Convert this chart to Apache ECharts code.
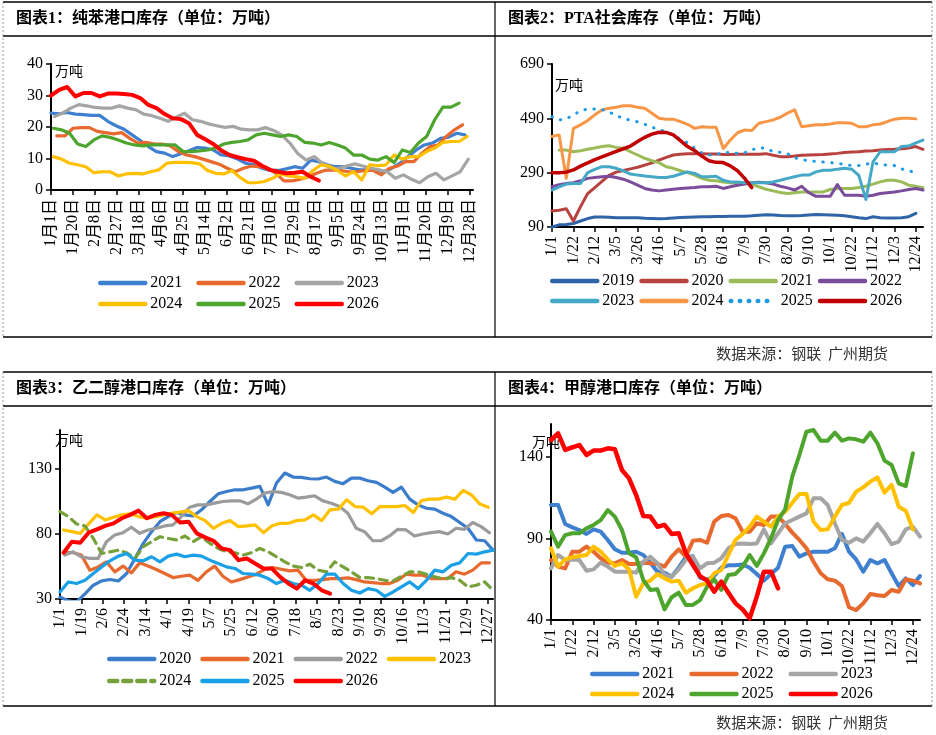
<!DOCTYPE html>
<html>
<head>
<meta charset="utf-8">
<script src="https://cdn.jsdelivr.net/npm/echarts@6/dist/echarts.min.js"></script>
<style>
html,body{margin:0;padding:0;background:#fff;}
#main{width:936px;height:735px;}
</style>
</head>
<body>
<div id="main"></div>
<script>
// ---------- 图表1 纯苯港口库存（周度，按一年中的第几天起算） ----------
var bzYears = ['2021','2022','2023','2024','2025','2026'];
var bzStart = [0, 5, 3, 2, 2, 0];
var bz2021 = [24.4,24.2,24.6,24.1,23.9,23.7,23.7,21.8,20.4,19.3,17.5,15.7,13.8,12.2,11.7,10.6,11.5,12.5,13.5,13.3,12.7,11.1,10.8,9.8,8.5,8.0,6.9,6.2,6.2,6.7,7.4,6.9,9.5,9.0,8.0,7.4,7.4,6.9,6.4,6.4,6.4,5.8,6.9,8.5,10.6,12.7,14.3,14.9,16.4,16.8,18.0,17.5];
var bz2022 = [17.2,17.2,19.6,19.8,19.8,18.6,18.2,17.8,18.2,16.4,14.9,15.1,14.6,14.6,14.0,12.2,11.1,10.6,9.8,9.0,8.2,6.9,5.8,6.9,7.6,7.4,6.9,5.3,2.9,2.9,3.4,4.2,5.3,6.2,6.4,6.2,5.8,5.8,6.2,6.2,4.8,6.9,7.6,9.0,9.0,11.7,13.8,14.3,17.0,19.1,20.7];
var bz2023 = [23.3,24.4,26.0,27.1,26.7,26.2,26.0,26.0,26.7,26.0,25.5,24.1,23.6,22.8,21.8,23.1,24.4,22.3,21.8,21.0,20.4,19.9,20.2,19.3,19.1,19.1,19.8,18.9,17.5,14.9,11.5,9.5,10.6,8.5,6.9,6.9,7.6,8.3,7.6,6.9,6.4,5.8,3.7,4.8,3.4,2.3,4.2,5.3,3.2,4.5,5.8,9.8];
var bz2024 = [10.6,9.8,8.5,8.0,7.4,5.5,5.8,5.8,4.5,5.1,5.3,5.1,5.8,6.4,8.5,8.8,8.8,8.7,8.3,6.2,5.3,5.1,6.2,4.0,2.3,2.3,2.7,3.7,5.1,4.5,4.2,3.7,6.2,8.0,7.6,6.2,4.5,5.8,3.2,8.0,7.7,8.0,11.1,9.8,10.6,10.6,12.2,13.3,15.1,15.4,15.4,17.0];
var bz2025 = [19.6,19.1,18.0,14.6,13.8,15.9,17.2,16.7,15.9,14.9,14.3,14.0,14.3,14.3,14.3,14.3,12.2,12.2,12.4,12.7,13.3,14.6,15.1,15.4,15.9,17.5,18.0,17.5,17.0,17.5,17.0,15.1,14.9,14.3,15.1,14.3,13.3,11.1,11.1,9.8,9.5,10.6,8.7,12.7,11.9,14.9,17.0,22.3,26.3,26.3,27.6];
var bz2026 = [30.0,31.8,32.7,29.7,30.8,30.8,29.7,30.6,30.6,30.5,30.2,29.2,27.0,26.0,24.1,22.8,22.5,21.2,17.5,16.1,14.6,12.5,11.1,10.4,9.8,9.3,7.7,6.4,5.8,5.3,5.5,5.8,4.2,3.0];
var bzColors = ['#3E80CF','#E8692D','#A5A5A5','#FFC000','#4EA52E','#FF0000'];

// ---------- 图表2 PTA社会库存（周度） ----------
var ptaYears = ['2019','2020','2021','2022','2023','2024','2025','2026'];
var pta2019 = [90,98,99,103,112,121,127,127,126,124,124,124,124,122,121,120,121,123,125,126,127,128,128,129,129,130,130,130,131,133,135,134,132,131,131,132,134,136,135,134,133,131,128,124,121,128,124,123,123,124,128,140];
var pta2020 = [149,152,157,112,165,213,235,258,280,292,298,304,310,318,326,336,346,355,358,360,360,360,359,359,357,357,358,358,358,358,360,354,349,349,351,354,355,356,357,359,361,364,366,367,370,371,373,375,376,378,381,386,376];
var pta2021 = [null,373,373,367,371,376,381,386,389,383,380,367,355,343,334,327,312,306,297,290,281,269,262,260,256,253,250,250,248,238,229,223,217,213,216,219,219,219,219,228,232,232,232,235,240,248,256,262,262,256,244,240,235];
var pta2022 = [238,246,250,253,260,269,272,275,277,272,266,256,244,232,226,223,226,229,232,234,235,238,238,240,232,238,244,248,253,255,253,248,240,234,226,240,216,203,203,203,246,207,207,207,203,207,213,216,219,223,228,232,226];
var pta2023 = [226,238,248,250,250,290,302,312,312,306,297,285,281,278,275,272,272,277,285,293,287,275,275,277,262,256,256,253,253,253,253,256,262,269,275,281,281,293,299,299,303,306,303,280,191,330,367,367,367,386,388,400,410];
var pta2024 = [423,429,269,453,466,482,503,521,527,531,536,536,531,527,509,490,487,487,478,468,453,459,457,457,379,410,437,447,445,472,478,484,494,509,521,459,463,466,466,469,474,474,472,459,459,466,469,478,487,490,490,488];
var pta2025 = [496,484,488,502,518,524,524,522,514,500,490,483,477,468,457,449,440,430,412,400,380,362,355,357,364,365,361,363,374,382,380,367,365,360,345,338,334,331,329,327,325,320,316,316,321,326,320,318,316,304,296,292];
var pta2026 = [290,290,292,300,314,326,338,348,358,368,378,388,405,420,432,439,438,429,408,386,371,351,334,328,327,315,297,269,235];
var ptaColors = ['#2F64A8','#B8423F','#9BBB59','#7B4C9B','#45A8C6','#F79646','#1E9BE6','#C00000'];

// ---------- 图表3 乙二醇港口库存（周度，按一年中的第几天起算） ----------
var megYears = ['2020','2021','2022','2023','2024','2025','2026'];
var megStart = [0, 4, 4, 3, 0, 0, 3];
var meg2020 = [31.5,28.5,27.7,34,40.6,43.9,45,43.9,49.6,61.2,72.8,81.8,89.5,93.4,96.5,94.7,93.9,98.6,105,110.9,112.7,114,114,115.3,116.6,102.4,119.2,126.9,123.8,123.6,122.5,122.3,123.8,120.5,118.7,123,123,121,119.7,116.1,112,116.1,106.8,102.4,99.8,99.1,96,93.4,88.8,84.4,75.4,74.8,67.6];
var meg2021 = [65.6,65.6,63.8,52.2,54.7,58.6,50.9,55.3,50.1,57.8,55.3,52.7,49.6,46.5,47.5,48.3,44.4,50.9,55.3,47.5,43.1,44.9,47,49.1,52.7,54.2,52.9,51.6,52.2,44.4,44.4,44.9,45.7,45.7,46.2,44.9,43.1,42.6,41.9,41.9,44.4,49.1,48.3,48.3,45.7,45.7,45.7,50.9,49.1,52.2,57.8,57.8];
var meg2022 = [63.8,66.3,62.5,61.2,61.2,74.1,79.2,81,85.2,80.5,83.1,84.4,86.2,87,93.4,100.6,102.4,102.4,103.7,105,105.5,105.5,103.2,106.8,111.4,112.7,112,110.2,107.6,108.4,109.4,105.5,103.7,101.1,96,84.4,81.8,74.8,74.8,78.5,83.6,83.1,78.5,80,81,81.8,80,84.4,83.6,88.8,85.7,81];
var meg2023 = [83.1,81.8,80.5,87.7,94.7,90.8,92.9,94.7,95.5,93.4,92.1,93.4,94.7,96,96.8,98,93.4,90.3,84.4,88.2,90.3,85.7,86.2,87,81,86.2,88.2,88.2,90.3,90.8,94.7,90.3,98.6,99.1,106.3,101.1,100.6,95.5,101.1,101.1,101.1,101.9,96.5,105.8,106.8,106.8,108.4,106.8,113.5,110,103,100.5];
var meg2024 = [97.3,93.4,87.7,86.2,76.6,65,66.3,67.6,65.6,61.2,70.2,74.1,77.9,76.6,75.4,78.5,74.1,77.9,72.8,68.9,66.3,65.6,63.8,65.6,68.9,66.3,62.5,58.6,55.3,54.2,56.8,52.2,50.9,58.6,54.7,50.9,46.5,46.5,45.7,44.4,43.9,47.5,50.9,50.9,49.1,47,45.7,46.5,44.4,39.3,40.6,43.1,36.7];
var meg2025 = [35.4,43.1,41.9,44.4,49.6,54.7,59.4,63,65,59.9,59.4,62.5,58.6,63,64.5,62.5,63.8,63,59.9,57.3,54.7,53.5,49.6,49.1,48.3,45.7,41.9,44.4,41.9,40.6,36.7,41.9,49.1,49.1,41.9,36.7,34.6,38,36.7,32,35.4,39.3,43.1,38,44.4,52.2,50.9,56,57.8,65,64.5,66.3,67.6];
var meg2026 = [65.6,74.1,73.3,81,83.6,86.2,88.2,92.1,94.7,98,92.1,94.7,96,94.7,88.8,89.5,80.5,77.4,74.8,68.9,67.6,59.9,61.2,57.3,53.5,53.5,47,41.9,38,44.4,41.9,36.7,34.1];
var megColors = ['#3B7DCB','#E8692D','#9B9B9B','#FFC000','#76A13A','#1AA0E6','#FF0000'];

// ---------- 图表4 甲醇港口库存（周度） ----------
var meYears = ['2021','2022','2023','2024','2025','2026'];
var me2021 = [110.4,110.4,98.8,96.7,95.1,92.7,95.5,94.1,89,83.3,81.2,81.2,81.8,79.8,75.1,69.6,69,66.5,72,78.5,79,66,64.5,67,72,73.5,73.5,74,72,68.2,64.1,68.2,72,84.9,85.3,78.8,80.8,81.8,81.8,81.8,83.9,92.7,81.8,77.1,69.6,76.7,74.7,76.7,68.6,60.8,65.5,61.4,66.9];
var me2022 = [76.7,72.7,71.6,81.8,81.8,84.9,81.8,77.8,75.1,74.7,76.7,74.3,74.3,75.1,74.7,74.3,72.7,78.8,83.3,78.8,88.6,89,87.3,100.2,103.7,104.3,102.2,94.1,94.1,99.2,98.2,103.3,103.3,98.8,93.5,89,83.9,75.7,68.6,64.9,64.1,60.8,47.8,46.1,50.2,55.9,55.1,54.7,58.4,57.3,64.9,64.1,62.4];
var me2023 = [71.6,79.8,76.7,77.1,76.7,70.2,71,75.1,72.7,69.6,69.6,69.6,69,75.7,78.8,74.7,67.6,66.5,71,76.7,78.8,71.6,74.7,75.1,77.8,83.9,86.5,86.9,86.5,86.9,95.5,86.9,93.1,99.2,101.2,103.3,105.3,114.5,114.5,110.4,99.2,89,87.3,90,88,93.1,98.8,93.1,86.5,88,95.5,97.1,91];
var me2024 = [83.9,72.7,77.1,78.4,79.2,79.8,84.9,81.8,77.1,73.1,74.7,71,54.3,62.4,64.1,68.2,65.5,63.5,64.1,56.7,59.4,61.4,62.4,68.6,70.6,79.8,89,92.7,97.1,103.3,100.2,97.1,103.3,106.3,111.8,117.1,117.1,100.2,95.1,95.5,103.3,110.4,111.8,118.6,121.2,124.7,127.3,118,122.7,109.4,106.9,95.5];
var me2025 = [94.1,84.9,92,93.1,93.1,96.1,98.2,101.2,107.3,103.3,95.1,80.8,78.4,64.5,58.4,58.8,46.5,53.9,56.7,49.2,49.2,52.2,60.4,64.9,58.4,67.6,68.2,72.7,79.8,73.1,80.8,90,101.2,107.8,127.8,141,155.3,156.3,149.8,149.8,154.7,149.8,151.2,150.6,149.2,154.7,148.2,137.6,134.9,123.7,122,142];
var me2026 = [150.2,154.3,144.1,145.7,147.1,141,143.7,143.7,145.1,144.5,131.8,126.7,116.5,103.7,103.3,97.1,98.2,92.7,93.1,80.8,73.7,66.9,64.1,57.3,63.5,56.7,50.2,46.5,41,54.3,69.6,69.6,59.4];
var meColors = ['#3E80CF','#E8692D','#A5A5A5','#FFC000','#4EA52E','#FF0000'];

var FONT = '"Liberation Serif","Noto Sans CJK SC",serif';

function dayLabel(d, cn) {
  var t = new Date(2021, 0, 1 + d);
  var m = t.getMonth() + 1, dd = t.getDate();
  return cn ? m + '月' + dd + '日' : m + '/' + dd;
}
var weekCats = [];
for (var i = 0; i < 53; i++) weekCats.push(dayLabel(7 * i, false));

function byDay(vals, start) {
  return vals.map(function (v, i) { return [start + 7 * i, v]; });
}

var series = [];
function addLine(tag, year, data, color, idx, width, type) {
  series.push({
    name: tag + '_' + year, type: 'line', xAxisIndex: idx, yAxisIndex: idx,
    data: data, symbol: 'none', connectNulls: true,
    lineStyle: {color: color, width: width, type: type || 'solid', cap: 'round', join: 'round'},
    itemStyle: {color: color}
  });
}

var bzData = [bz2021, bz2022, bz2023, bz2024, bz2025, bz2026];
bzYears.forEach(function (y, k) {
  addLine('a', y, byDay(bzData[k], bzStart[k]), bzColors[k], 0, y === '2026' ? 4 : 3.2);
});
var ptaData = [pta2019, pta2020, pta2021, pta2022, pta2023, pta2024, pta2025, pta2026];
ptaYears.forEach(function (y, k) {
  addLine('b', y, ptaData[k], ptaColors[k], 1, y === '2026' ? 3.5 : 3, y === '2025' ? [0.5, 8.5] : null);
});
var megData = [meg2020, meg2021, meg2022, meg2023, meg2024, meg2025, meg2026];
megYears.forEach(function (y, k) {
  addLine('c', y, byDay(megData[k], megStart[k]), megColors[k], 2, y === '2026' ? 4 : 3.2, y === '2024' ? [8, 6] : null);
});
var meData = [me2021, me2022, me2023, me2024, me2025, me2026];
meYears.forEach(function (y, k) {
  addLine('d', y, meData[k], meColors[k], 3, y === '2026' ? 4.5 : 4);
});

function names(tag, list) { return list.map(function (y) { return tag + '_' + y; }); }
function legendRow(tag, list, left, top, gap) {
  return {
    left: left, top: top, data: names(tag, list), itemWidth: 45, itemHeight: 14, itemGap: gap,
    selectedMode: false,
    itemStyle: {opacity: 0},
    lineStyle: {width: 4.5, cap: 'round'},
    textStyle: {fontSize: 16, fontFamily: FONT, color: '#000'},
    formatter: function (n) { return n.split('_')[1]; }
  };
}

var axisLineStyle = {lineStyle: {color: '#000', width: 2}};
var tickStyle = {show: true, length: 5, lineStyle: {color: '#000', width: 1.5}};

function dayAxis(idx, interval) {
  return {
    type: 'value', gridIndex: idx, min: 0, max: 364, interval: interval,
    axisLine: axisLineStyle, axisTick: tickStyle, splitLine: {show: false},
    axisLabel: {rotate: 90, fontSize: 16, fontFamily: FONT, color: '#000', margin: 9, showMaxLabel: false,
      formatter: function (v) { return dayLabel(v, idx === 0); }}
  };
}
function weekAxis(idx) {
  return {
    type: 'category', gridIndex: idx, data: weekCats, boundaryGap: false,
    axisLine: axisLineStyle, axisTick: {show: true, length: 5, interval: 2, lineStyle: {color: '#000', width: 1.5}},
    axisLabel: {rotate: 90, interval: 2, fontSize: 16, fontFamily: FONT, color: '#000', margin: 9}
  };
}
function valAxis(idx, min, max, interval) {
  return {
    type: 'value', gridIndex: idx, min: min, max: max, interval: interval,
    axisLine: {show: true, lineStyle: {color: '#000', width: 2}},
    axisTick: {show: true, length: 5, lineStyle: {color: '#000', width: 1.5}},
    splitLine: {show: false},
    axisLabel: {fontSize: 16, fontFamily: FONT, color: '#000', margin: 8, showMaxLabel: idx < 2}
  };
}

function hline(x1, x2, y, w) {
  return {type: 'line', shape: {x1: x1, y1: y, x2: x2, y2: y}, style: {stroke: '#000', lineWidth: w}, silent: true};
}
function vline(x, y1, y2, dashed) {
  return {type: 'line', shape: {x1: x, y1: y1, x2: x, y2: y2},
    style: dashed ? {stroke: '#9a9a9a', lineWidth: 1, lineDash: [2, 2]} : {stroke: '#000', lineWidth: 1.2}, silent: true};
}
function txt(x, y, s, opt) {
  var st = {text: s, x: x, y: y, fill: '#000', font: '16px ' + FONT, textVerticalAlign: 'middle'};
  for (var k in opt) st[k] = opt[k];
  return {type: 'text', style: st, silent: true};
}

var TITLE_FONT = 'bold 16px "Liberation Serif","Noto Sans CJK SC",serif';
var UNIT_FONT = '14px "Noto Sans CJK SC",sans-serif';
var SRC_FONT = '15px "Noto Sans CJK SC",sans-serif';

var graphics = [
  hline(3, 932, 2, 1.5), hline(3, 932, 36, 1.5), hline(3, 932, 337, 1.5),
  vline(495, 2, 337), vline(3, 2, 337, true), vline(932, 2, 337, true),
  hline(3, 932, 372, 1.5), hline(3, 932, 406, 1.5), hline(3, 932, 706, 1.5),
  vline(495, 372, 706), vline(3, 372, 706, true), vline(932, 372, 706, true),
  txt(16, 19, '图表1：纯苯港口库存（单位：万吨）', {font: TITLE_FONT}),
  txt(508, 19, '图表2：PTA社会库存（单位：万吨）', {font: TITLE_FONT}),
  txt(16, 389, '图表3：乙二醇港口库存（单位：万吨）', {font: TITLE_FONT}),
  txt(508, 389, '图表4：甲醇港口库存（单位：万吨）', {font: TITLE_FONT}),
  txt(55, 71, '万吨', {font: UNIT_FONT}),
  txt(555, 85, '万吨', {font: UNIT_FONT}),
  txt(55, 440, '万吨', {font: UNIT_FONT}),
  txt(532, 442, '万吨', {font: UNIT_FONT}),
  txt(888, 353, '数据来源：钢联  广州期货', {font: SRC_FONT, fill: '#333', textAlign: 'right'}),
  txt(888, 722, '数据来源：钢联  广州期货', {font: SRC_FONT, fill: '#333', textAlign: 'right'})
];

var chart = echarts.init(document.getElementById('main'));
chart.setOption({
  backgroundColor: '#fff',
  animation: false,
  grid: [
    {left: 51, top: 64, width: 422, height: 126},
    {left: 552, top: 64, width: 371, height: 163},
    {left: 60, top: 430, width: 433, height: 169},
    {left: 551, top: 424, width: 369, height: 196}
  ],
  xAxis: [dayAxis(0, 19), weekAxis(1), dayAxis(2, 18), weekAxis(3)],
  yAxis: [valAxis(0, 0, 40, 10), valAxis(1, 90, 690, 200), valAxis(2, 30, 160, 50), valAxis(3, 40, 160, 50)],
  legend: [
    legendRow('a', bzYears.slice(0, 3), 93, 270, 14),
    legendRow('a', bzYears.slice(3), 93, 291, 14),
    legendRow('b', ptaYears.slice(0, 4), 545, 268, 5),
    legendRow('b', ptaYears.slice(4), 545, 288, 5),
    legendRow('c', megYears.slice(0, 4), 102, 646, 9),
    legendRow('c', megYears.slice(4), 102, 668, 9),
    legendRow('d', meYears.slice(0, 3), 585, 661, 15),
    legendRow('d', meYears.slice(3), 585, 681, 15)
  ],
  graphic: graphics,
  series: series
});
</script>
</body>
</html>
